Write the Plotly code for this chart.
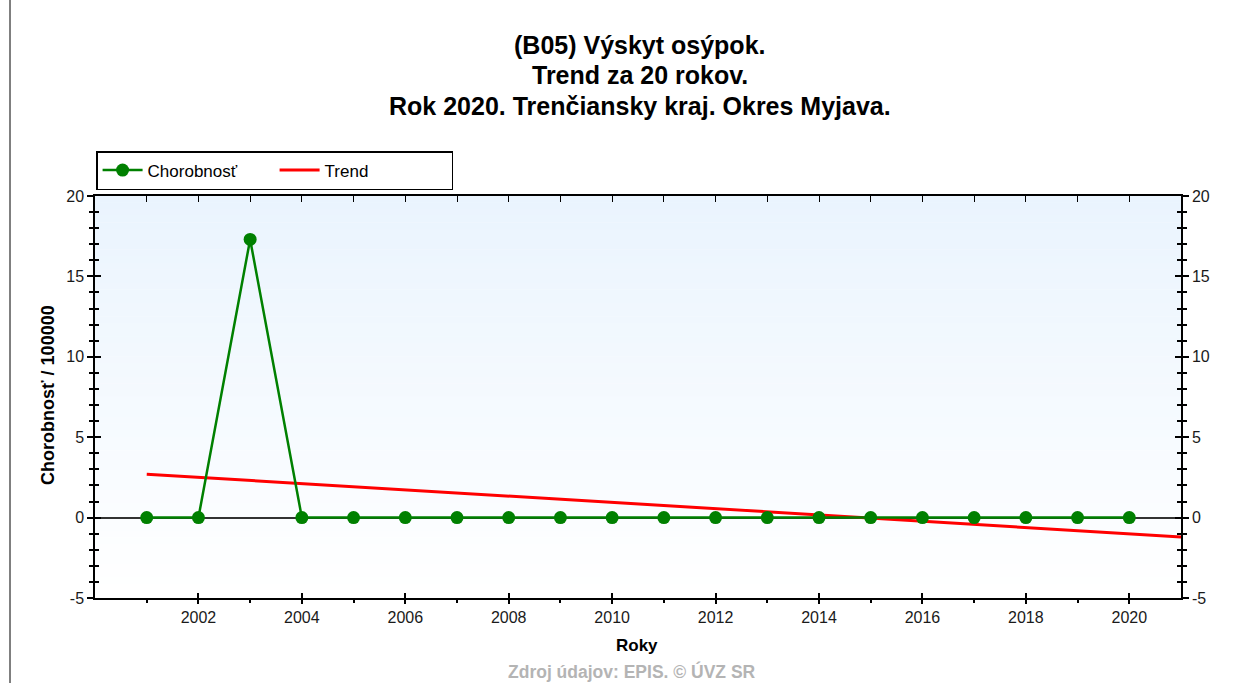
import plotly.graph_objects as go

# Incidence of measles per 100 000, district Myjava
years = list(range(2001, 2021))
incidence = [0, 0, 17.3, 0, 0, 0, 0, 0, 0, 0, 0, 0, 0, 0, 0, 0, 0, 0, 0, 0]

# Linear trend over 20 years (end points)
trend_years = [2001, 2021]
trend_values = [2.7, -1.2]

x_major_ticks = list(range(2002, 2021, 2))
x_all_ticks = list(range(2001, 2021))
y_ticks = [-5, 0, 5, 10, 15, 20]
y_tick_text = ["-5", "0", "5", "10", "15", "20"]

title_lines = [
    "(B05) Výskyt osýpok.",
    "Trend za 20 rokov.",
    "Rok 2020. Trenčiansky kraj. Okres Myjava.",
]

FONT = "Liberation Sans, Arial, sans-serif"
X_RANGE = [2000, 2021]
Y_RANGE = [-5, 20]

# figure geometry in pixels
W, H = 1233, 683
ML, MR, MT, MB = 95, 52, 196, 85
PW, PH = W - ML - MR, H - MT - MB


def px_x(px):
    return (px - ML) / PW


def px_y(py):
    return (H - MB - py) / PH


fig = go.Figure()

# trend first so the incidence line is drawn over it
fig.add_trace(go.Scatter(
    x=trend_years, y=trend_values, name="Trend",
    mode="lines",
    line=dict(color="#ff0000", width=3),
))
fig.add_trace(go.Scatter(
    x=years, y=incidence, name="Chorobnosť",
    mode="lines+markers",
    line=dict(color="#008000", width=2.5),
    marker=dict(color="#008000", size=13, symbol="circle"),
    cliponaxis=False,
))

# light blue to white vertical gradient behind the plot area
shapes = []
n_strips = 60
top = (234, 244, 254)
bottom = (255, 255, 255)
for i in range(n_strips):
    t = i / (n_strips - 1)
    c = tuple(round(top[k] + (bottom[k] - top[k]) * t) for k in range(3))
    y1 = 1 - i / n_strips
    y0 = 1 - (i + 1) / n_strips
    shapes.append(dict(
        type="rect", xref="x domain", yref="y domain",
        x0=0, x1=1, y0=y0, y1=y1 + 0.001,
        fillcolor="rgb(%d,%d,%d)" % c, line=dict(width=0), layer="below",
    ))
# page border line on the left
shapes.append(dict(
    type="line", xref="paper", yref="paper",
    x0=px_x(10), x1=px_x(10), y0=px_y(H), y1=px_y(0),
    line=dict(color="black", width=1),
))

tickfont = dict(family=FONT, size=16, color="#1a1a1a")

common_x = dict(range=X_RANGE, showgrid=False, zeroline=False,
                showline=True, linecolor="black", linewidth=1.5,
                tickcolor="black", fixedrange=True)
common_y = dict(range=Y_RANGE, showgrid=False, showline=True,
                linecolor="black", linewidth=1.5, tickcolor="black",
                fixedrange=True)

fig.update_layout(
    width=W, height=H,
    margin=dict(l=ML, r=MR, t=MT, b=MB),
    paper_bgcolor="white", plot_bgcolor="white",
    font=dict(family=FONT, size=13, color="black"),
    showlegend=True,
    legend=dict(
        orientation="h", x=0.001, y=px_y(151), xanchor="left", yanchor="top",
        bgcolor="white", bordercolor="black", borderwidth=1.5,
        font=dict(family=FONT, size=17, color="black"),
        entrywidth=122, itemwidth=40, traceorder="reversed",
    ),
    xaxis=dict(**common_x, side="bottom", tickmode="array",
               tickvals=x_major_ticks, ticks="outside", ticklen=4,
               tickwidth=1.5, tickfont=tickfont,
               minor=dict(tickmode="array", tickvals=x_all_ticks,
                          ticks="outside", ticklen=3, tickcolor="black")),
    xaxis2=dict(**common_x, overlaying="x", side="top", tickmode="array",
                tickvals=x_all_ticks, ticks="inside", ticklen=6,
                showticklabels=False),
    xaxis3=dict(**common_x, overlaying="x", side="bottom", tickmode="array",
                tickvals=x_major_ticks, ticks="inside", ticklen=5,
                tickwidth=1.5, showticklabels=False),
    yaxis=dict(**common_y, side="left", tickmode="array", tickvals=y_ticks,
               ticktext=y_tick_text,
               ticks="outside", ticklen=6, tickwidth=1.5, tickfont=tickfont,
               zeroline=True, zerolinecolor="#333333", zerolinewidth=1.5,
               minor=dict(dtick=1, ticks="outside", ticklen=4,
                          tickcolor="black")),
    yaxis2=dict(**common_y, overlaying="y", side="right", tickmode="array",
                tickvals=y_ticks, ticktext=y_tick_text,
                ticks="outside", ticklen=6, tickwidth=1.5,
                tickfont=tickfont, zeroline=False,
                minor=dict(dtick=1, ticks="outside", ticklen=4,
                           tickcolor="black")),
    yaxis3=dict(**common_y, overlaying="y", side="left", tickmode="array",
                tickvals=y_ticks, ticks="inside", ticklen=6, tickwidth=1.5,
                showticklabels=False, zeroline=False,
                minor=dict(dtick=1, ticks="inside", ticklen=4,
                           tickcolor="black")),
    yaxis4=dict(**common_y, overlaying="y", side="right", tickmode="array",
                tickvals=y_ticks, ticks="inside", ticklen=6, tickwidth=1.5,
                showticklabels=False, zeroline=False,
                minor=dict(dtick=1, ticks="inside", ticklen=4,
                           tickcolor="black")),
    shapes=shapes,
)

# invisible companions so the overlay axes are drawn
for xa, ya in [("x2", "y"), ("x3", "y"), ("x", "y2"), ("x", "y3"), ("x", "y4")]:
    fig.add_trace(go.Scatter(x=years, y=incidence, xaxis=xa, yaxis=ya,
                             mode="lines", line=dict(width=0), opacity=0,
                             showlegend=False, hoverinfo="skip"))

annotations = []
for text, py in zip(title_lines, [45, 75, 106]):
    annotations.append(dict(
        text="<b>%s</b>" % text, xref="paper", yref="paper",
        x=px_x(640), y=px_y(py), xanchor="center", yanchor="middle",
        showarrow=False, font=dict(family=FONT, size=25, color="black"),
    ))
annotations.append(dict(
    text="<b>Chorobnosť / 100000</b>", xref="paper", yref="paper",
    x=px_x(48), y=px_y(395), xanchor="center", yanchor="middle", textangle=-90,
    showarrow=False, font=dict(family=FONT, size=18, color="black"),
))
annotations.append(dict(
    text="<b>Roky</b>", xref="paper", yref="paper",
    x=px_x(637), y=px_y(645), xanchor="center", yanchor="middle",
    showarrow=False, font=dict(family=FONT, size=17, color="black"),
))
annotations.append(dict(
    text="<b>Zdroj údajov: EPIS. © ÚVZ SR</b>", xref="paper", yref="paper",
    x=px_x(632), y=px_y(671), xanchor="center", yanchor="middle",
    showarrow=False, font=dict(family=FONT, size=17.5, color="#b4b4b4"),
))
fig.update_layout(annotations=annotations)

fig.write_html("out.html", config={"displayModeBar": False})
